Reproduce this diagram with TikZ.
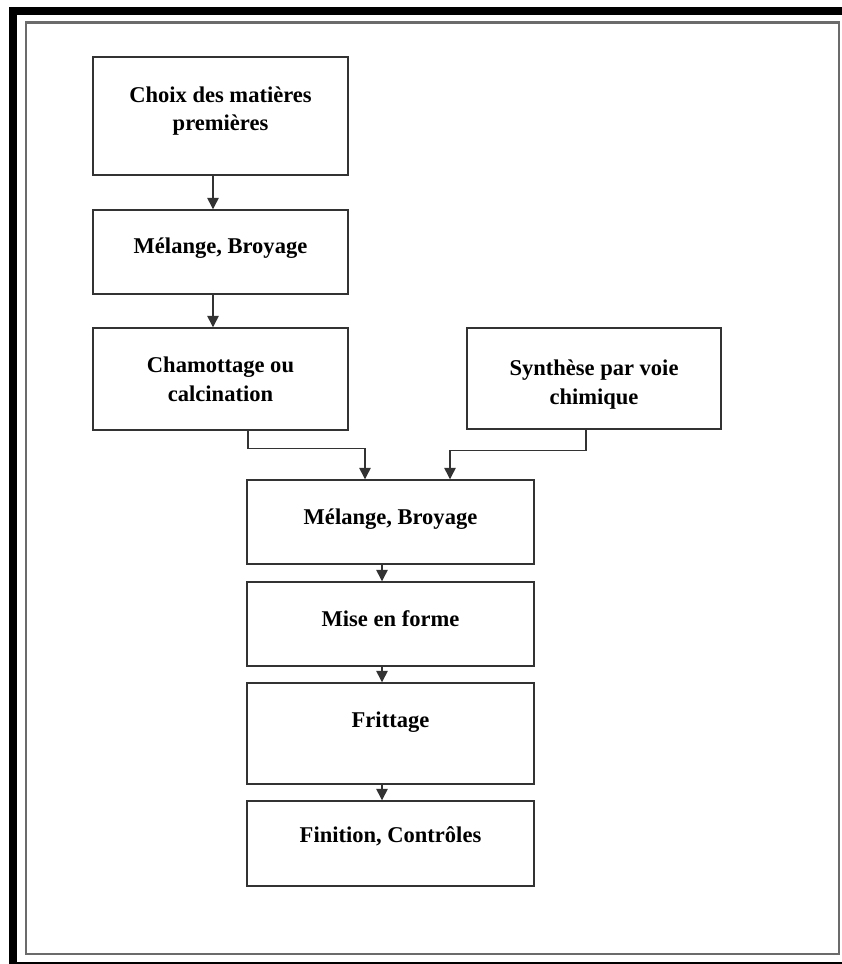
\documentclass[tikz,border=0pt]{standalone}
\usepackage{fontspec}
\setmainfont{Liberation Serif}
\usepackage{tikz}
\usetikzlibrary{arrows.meta, calc}
\definecolor{Ink}{HTML}{333333}
\definecolor{Frame}{HTML}{6B6B6B}

\begin{document}
\begin{tikzpicture}[
  x=0.75pt, y=-0.75pt,
  font=\fontsize{16.9}{21.5}\selectfont\bfseries,
  box/.style={draw=Ink, line width=1.1pt, align=center, inner sep=2pt, minimum width=191.25pt},
  stage/.style={box, minimum width=215.25pt, minimum height=63pt},
  lift/.style={text depth=#1},
  arrow/.style={-{Triangle[length=8.5pt, width=8.5pt]}, line width=1.1pt, draw=Ink}
]
\clip (0,0) rectangle (842,964);
% frames
\draw[line width=6pt] (12.5,10.5) rectangle (870,966);
\draw[Frame, line width=1.6pt] (26,22.5) rectangle (839,954);

\node[box, minimum height=88.5pt, lift=11pt] (choix) at (220.5,116) {Choix des matières\\premières};
\node[box, minimum height=63pt, lift=10pt] (melange) at (220.5,252) {Mélange, Broyage};
\node[box, minimum height=76.5pt] (chamottage) at (220.5,379) {Chamottage ou\\calcination};
\node[box, minimum width=190.5pt, minimum height=75.75pt, text height=42pt] (synthese) at (594,378.5) {Synthèse par voie\\chimique};

\node[stage, lift=8pt] (broyage) at (390.5,522) {Mélange, Broyage};
\node[stage, lift=7.5pt] (mise) at (390.5,624) {Mise en forme};
\node[stage, minimum height=75.75pt, lift=21pt] (frittage) at (390.5,733.5) {Frittage};
\node[stage, minimum height=63.75pt, lift=14pt] (finition) at (390.5,843.5) {Finition, Contrôles};

\draw[arrow] ($(choix.south)+(-7.5,0)$) -- ($(melange.north)+(-7.5,0)$);
\draw[arrow] ($(melange.south)+(-7.5,0)$) -- ($(chamottage.north)+(-7.5,0)$);
\draw[arrow] ($(chamottage.south)+(27.5,0)$) -- ++(0,18) -| ($(broyage.north)+(-25.5,0)$);
\draw[arrow] ($(synthese.south)+(-8,0)$) -- ++(0,21) -| ($(broyage.north)+(59.5,0)$);
\draw[arrow] ($(broyage.south)+(-8.5,0)$) -- ($(mise.north)+(-8.5,0)$);
\draw[arrow] ($(mise.south)+(-8.5,0)$) -- ($(frittage.north)+(-8.5,0)$);
\draw[arrow] ($(frittage.south)+(-8.5,0)$) -- ($(finition.north)+(-8.5,0)$);
\end{tikzpicture}
\end{document}
